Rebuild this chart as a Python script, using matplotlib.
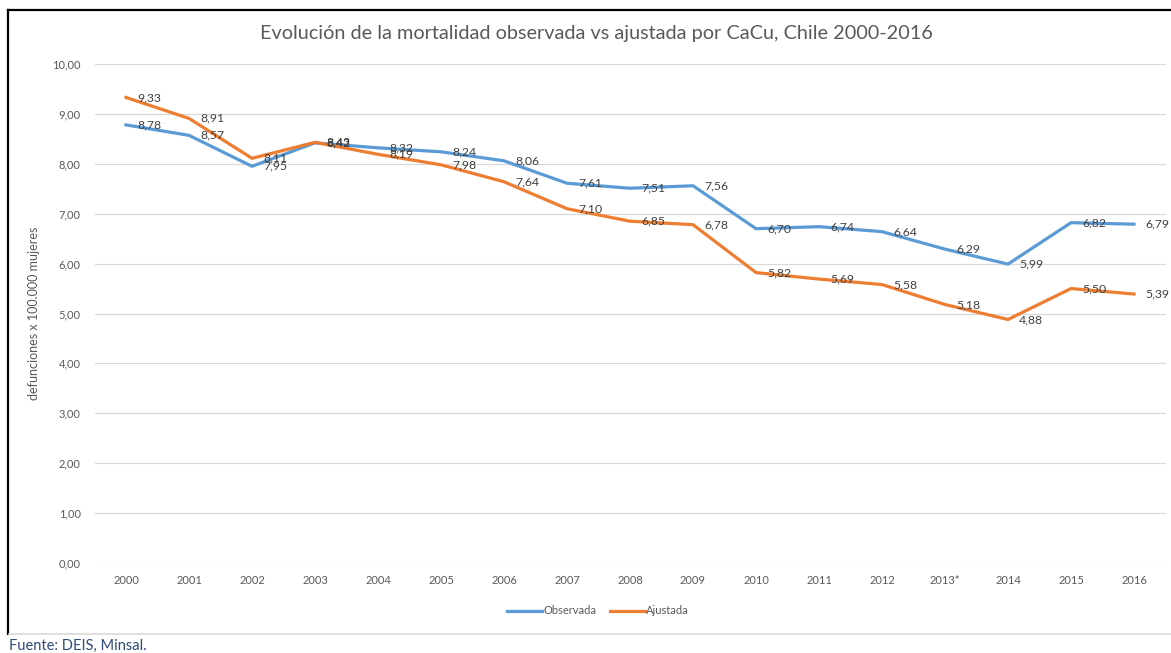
import matplotlib.pyplot as plt
from matplotlib.lines import Line2D

plt.rcParams['font.family'] = ['Lato', 'DejaVu Sans']

years = ['2000', '2001', '2002', '2003', '2004', '2005', '2006', '2007', '2008',
         '2009', '2010', '2011', '2012', '2013*', '2014', '2015', '2016']
observada = [8.78, 8.57, 7.95, 8.42, 8.32, 8.24, 8.06, 7.61, 7.51,
             7.56, 6.70, 6.74, 6.64, 6.29, 5.99, 6.82, 6.79]
ajustada = [9.33, 8.91, 8.11, 8.43, 8.19, 7.98, 7.64, 7.10, 6.85,
            6.78, 5.82, 5.69, 5.58, 5.18, 4.88, 5.50, 5.39]
yticks = [0, 1, 2, 3, 4, 5, 6, 7, 8, 9, 10]

W, H = 1171, 653
fig = plt.figure(figsize=(W / 100, H / 100), dpi=100)

# plot area in pixel coords
left, right, top, bottom = 94.5, 1165.5, 64, 563
ax = fig.add_axes([left / W, (H - bottom) / H, (right - left) / W, (bottom - top) / H])

x = list(range(len(years)))
blue = '#5B9BD5'
orange = '#ED7D31'
ax.plot(x, observada, color=blue, lw=2.3, solid_joinstyle='round', zorder=3)
ax.plot(x, ajustada, color=orange, lw=2.3, solid_joinstyle='round', zorder=3)

def fmt(v):
    return f'{v:.2f}'.replace('.', ',')

for series in (observada, ajustada):
    for i, v in enumerate(series):
        ax.annotate(fmt(v), (i, v), xytext=(8, 0), textcoords='offset points',
                    ha='left', va='center', fontsize=8.8, color='#404040',
                    annotation_clip=False, zorder=4)

ax.set_xlim(-0.5, len(years) - 0.5)
ax.set_ylim(0, 10)
ax.set_yticks(yticks)
ax.set_yticklabels([fmt(t) for t in yticks])
ax.set_xticks(x)
ax.set_xticklabels(years)
ax.tick_params(axis='both', length=0, labelsize=8, colors='#595959')
ax.tick_params(axis='y', pad=10)
ax.tick_params(axis='x', pad=9)
ax.grid(axis='y', color='#D9D9D9', lw=0.9)
ax.set_axisbelow(True)
for s in ax.spines.values():
    s.set_visible(False)

ax.set_ylabel('defunciones x 100.000 mujeres', fontsize=9, color='#595959', labelpad=9)

fig.text(596 / W, 1 - 33 / H, 'Evolución de la mortalidad observada vs ajustada por CaCu, Chile 2000-2016',
         ha='center', va='center', fontsize=14.3, color='#595959')

handles = [Line2D([], [], color=blue, lw=2.3), Line2D([], [], color=orange, lw=2.3)]
fig.legend(handles, ['Observada', 'Ajustada'], loc='center', bbox_to_anchor=(598 / W, 1 - 611 / H),
           ncol=2, frameon=False, fontsize=8, handlelength=3.2, handletextpad=0.1,
           columnspacing=1.2, labelcolor='#595959')

# frame lines and source note
fig.add_artist(Line2D([8 / W, 8 / W], [1 - 10 / H, 1 - 634 / H], color='black', lw=1.6,
                      transform=fig.transFigure))
fig.add_artist(Line2D([8 / W, 1], [1 - 10 / H, 1 - 10 / H], color='black', lw=1.6,
                      transform=fig.transFigure))
fig.add_artist(Line2D([9 / W, 1], [1 - 634 / H, 1 - 634 / H], color='#D9D9D9', lw=1.2,
                      transform=fig.transFigure))
fig.text(9 / W, 1 - 646 / H, 'Fuente: DEIS, Minsal.', ha='left', va='center',
         fontsize=10.5, color='#2F4A7A')

fig.savefig('out.png', dpi=100)
